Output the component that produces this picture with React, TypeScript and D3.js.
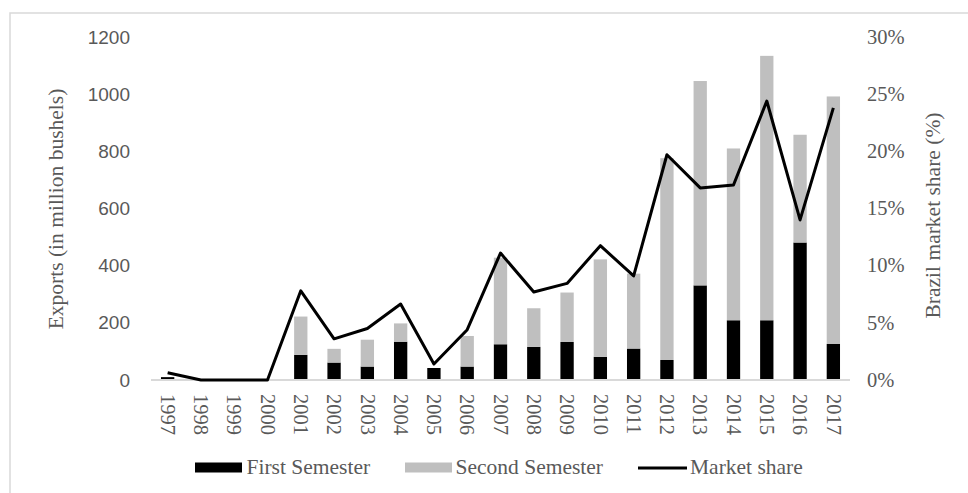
import React from "react";
import * as d3 from "d3";

const years = ["1997","1998","1999","2000","2001","2002","2003","2004","2005","2006","2007","2008","2009","2010","2011","2012","2013","2014","2015","2016","2017"];
const firstSemester = [10,0,0,0,88,61,47,134,42,47,125,116,133,81,110,70,331,209,209,481,126];
const secondSemester = [0,0,0,0,134,48,94,64,0,107,303,135,173,341,262,706,715,601,925,377,866];
const marketShare = [0.64,0,0,0,7.8,3.6,4.5,6.65,1.4,4.4,11.1,7.7,8.45,11.75,9.1,19.7,16.8,17.05,24.4,14.0,23.8];
const leftTicks = [0,200,400,600,800,1000,1200];
const rightTicks = [0,5,10,15,20,25,30];

const W = 968, H = 493;
const plotLeft = 151, plotRight = 850, plotTop = 37, plotBottom = 380;
const serif = "Liberation Serif, Tinos, DejaVu Serif, serif";
const sans = "Liberation Sans, Arial, sans-serif";
const textColor = "#595959";

const serifStyle = { fontFamily: serif, fontSize: "20.5px" } as React.CSSProperties;
const labelStyle = { fontFamily: serif, fontSize: "21.5px" } as React.CSSProperties;

export default function App() {
  const x = d3.scaleBand<string>().domain(years).range([plotLeft, plotRight]).paddingInner(0).paddingOuter(0);
  const y = d3.scaleLinear().domain([0, 1200]).range([plotBottom, plotTop]);
  const y2 = d3.scaleLinear().domain([0, 30]).range([plotBottom, plotTop]);
  const bw = x.bandwidth() * 0.4;
  const cx = (d: string) => (x(d) as number) + x.bandwidth() / 2;
  const line = d3.line<number>().x((_, i) => cx(years[i])).y((v) => y2(v));

  return (
    <svg width={W} height={H} style={{ position: "absolute", left: 0, top: 0 }}>
      <rect x={0} y={0} width={W} height={H} fill="#fff" />
      <rect x={10} y={13} width={W + 20} height={H + 20} fill="none" stroke="#d9d9d9" strokeWidth={1.5} />
      {years.map((yr, i) => {
        const x0 = cx(yr) - bw / 2;
        const f = firstSemester[i];
        const s = secondSemester[i];
        return (
          <g key={yr}>
            {f > 0 && <rect x={x0} y={y(f)} width={bw} height={y(0) - y(f)} fill="#000" />}
            {s > 0 && <rect x={x0} y={y(f + s)} width={bw} height={y(f) - y(f + s)} fill="#bfbfbf" />}
          </g>
        );
      })}
      <line x1={plotLeft} x2={plotRight} y1={plotBottom} y2={plotBottom} stroke="#d9d9d9" strokeWidth={2} />
      <path d={line(marketShare) || ""} fill="none" stroke="#000" strokeWidth={3} strokeLinejoin="round" />
      {leftTicks.map((t) => (
        <text key={t} x={130} y={y(t)} dy="0.35em" textAnchor="end" style={{ fontFamily: sans, fontSize: "19px" }} fill={textColor}>{t}</text>
      ))}
      {rightTicks.map((t) => (
        <text key={t} x={867} y={y2(t)} dy="0.33em" textAnchor="start" style={serifStyle} fill={textColor}>{t + "%"}</text>
      ))}
      {years.map((yr) => (
        <text key={yr} transform={`translate(${cx(yr) - 6.8},394) rotate(90)`} x={0} y={0} textAnchor="start" style={serifStyle} fill={textColor}>{yr}</text>
      ))}
      <text transform={`translate(63,209) rotate(-90)`} textAnchor="middle" style={labelStyle} fill={textColor}>Exports (in million bushels)</text>
      <text transform={`translate(940,215.5) rotate(-90)`} textAnchor="middle" style={labelStyle} fill={textColor}>Brazil market share (%)</text>
      <rect x={195} y={462.5} width={47} height={10} fill="#000" />
      <text x={246.5} y={474} style={labelStyle} fill={textColor}>First Semester</text>
      <rect x={405} y={462.5} width={47} height={10} fill="#bfbfbf" />
      <text x={455.5} y={474} style={labelStyle} fill={textColor}>Second Semester</text>
      <line x1={638} x2={687} y1={468} y2={468} stroke="#000" strokeWidth={3} />
      <text x={690} y={474} style={labelStyle} fill={textColor}>Market share</text>
    </svg>
  );
}
